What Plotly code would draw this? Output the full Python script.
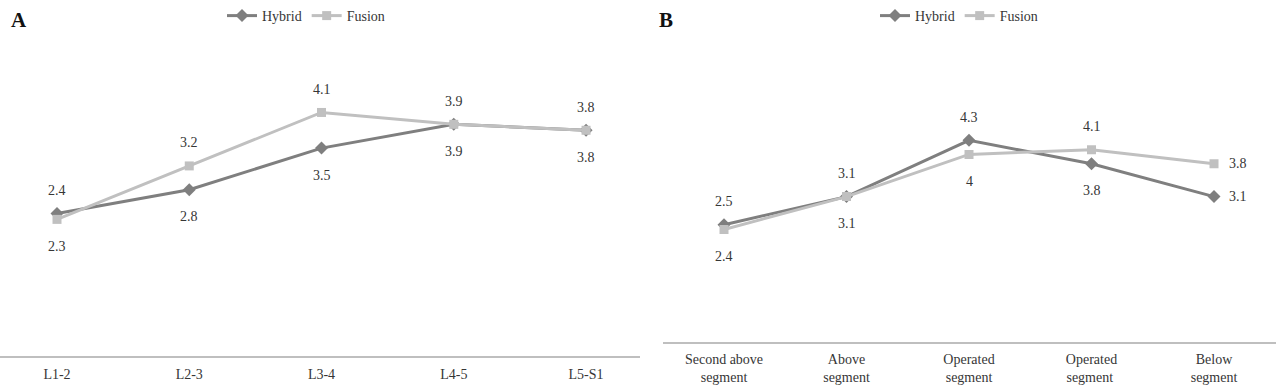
import plotly.graph_objects as go

# ---- data ----
cats_a = ["L1-2", "L2-3", "L3-4", "L4-5", "L5-S1"]
hybrid_a = [2.4, 2.8, 3.5, 3.9, 3.8]
fusion_a = [2.3, 3.2, 4.1, 3.9, 3.8]

cats_b = ["Second above<br>segment", "Above<br>segment", "Operated<br>segment",
          "Operated<br>segment ", "Below<br>segment"]
hybrid_b = [2.5, 3.1, 4.3, 3.8, 3.1]
fusion_b = [2.4, 3.1, 4.0, 4.1, 3.8]

# label placement per point (style)
pos_hybrid_a = ["above", "below", "below", "below", "below"]
pos_fusion_a = ["below", "above", "above", "above", "above"]
pos_hybrid_b = ["above", "above", "above", "below", "right"]
pos_fusion_b = ["below", "below", "below", "above", "right"]

HYB = "#7f7f7f"
FUS = "#c0c0c0"
FONT = "Times New Roman, Liberation Serif, serif"
TXT = "#363636"

fig = go.Figure()

def add_series(cats, vals, name, color, symbol, size, xa, ya, legend):
    fig.add_trace(go.Scatter(
        x=cats, y=vals, name=name, mode="lines+markers",
        line=dict(color=color, width=3),
        marker=dict(symbol=symbol, size=size, color=color),
        xaxis=xa, yaxis=ya, legend=legend, hoverinfo="skip"))

add_series(cats_a, hybrid_a, "Hybrid", HYB, "diamond", 10, "x", "y", "legend")
add_series(cats_a, fusion_a, "Fusion", FUS, "square", 9, "x", "y", "legend")
add_series(cats_b, hybrid_b, "Hybrid", HYB, "diamond", 10, "x2", "y2", "legend2")
add_series(cats_b, fusion_b, "Fusion", FUS, "square", 9, "x2", "y2", "legend2")

annotations = []
def add_labels(cats, vals, positions, xref, yref):
    for c, v, p in zip(cats, vals, positions):
        a = dict(x=c, y=v, xref=xref, yref=yref, text=f"{v:g}", showarrow=False,
                 font=dict(family=FONT, size=14, color=TXT))
        if p == "above":
            a.update(yshift=23, xanchor="center", yanchor="middle")
        elif p == "below":
            a.update(yshift=-27, xanchor="center", yanchor="middle")
        else:
            a.update(xshift=13, xanchor="left", yanchor="middle")
        annotations.append(a)

add_labels(cats_a, hybrid_a, pos_hybrid_a, "x", "y")
add_labels(cats_a, fusion_a, pos_fusion_a, "x", "y")
add_labels(cats_b, hybrid_b, pos_hybrid_b, "x2", "y2")
add_labels(cats_b, fusion_b, pos_fusion_b, "x2", "y2")

annotations.append(dict(text="<b>A</b>", x=19 / 1280, y=1 - 20 / 387, xref="paper", yref="paper",
                        showarrow=False, xanchor="center", yanchor="middle",
                        font=dict(family=FONT, size=21, color="#111111")))
annotations.append(dict(text="<b>B</b>", x=666 / 1280, y=1 - 20 / 387, xref="paper", yref="paper",
                        showarrow=False, xanchor="center", yanchor="middle",
                        font=dict(family=FONT, size=21, color="#111111")))

xcommon = dict(type="category", showgrid=False, zeroline=False, ticks="",
               showline=True, linecolor="#bfbfbf", linewidth=1.5,
               tickfont=dict(family=FONT, size=14, color=TXT), fixedrange=True)
ycommon = dict(visible=False, range=[0, 5], showgrid=False, zeroline=False, fixedrange=True)

fig.update_layout(
    width=1280, height=387,
    margin=dict(l=0, r=0, t=0, b=0),
    paper_bgcolor="white", plot_bgcolor="white",
    showlegend=True,
    xaxis=dict(xcommon, domain=[0, 0.5], range=[-0.431, 4.408], anchor="y",
               ticklabelstandoff=4),
    yaxis=dict(ycommon, domain=[31 / 387, 328 / 387], anchor="x"),
    xaxis2=dict(xcommon, domain=[663 / 1280, 1276 / 1280], range=[-0.498, 4.506], anchor="y2",
                ticklabelstandoff=3),
    yaxis2=dict(ycommon, domain=[45 / 387, 279.5 / 387], anchor="x2"),
    legend=dict(orientation="h", x=306 / 1280, xanchor="center", y=1, yanchor="top",
                font=dict(family=FONT, size=14, color=TXT), itemwidth=30,
                bgcolor="rgba(0,0,0,0)"),
    legend2=dict(orientation="h", x=959 / 1280, xanchor="center", y=1, yanchor="top",
                 font=dict(family=FONT, size=14, color=TXT), itemwidth=30,
                 bgcolor="rgba(0,0,0,0)"),
    annotations=annotations,
)

fig.write_html("out.html", config={"displayModeBar": False},
               post_script="document.body.style.margin='0px';")
